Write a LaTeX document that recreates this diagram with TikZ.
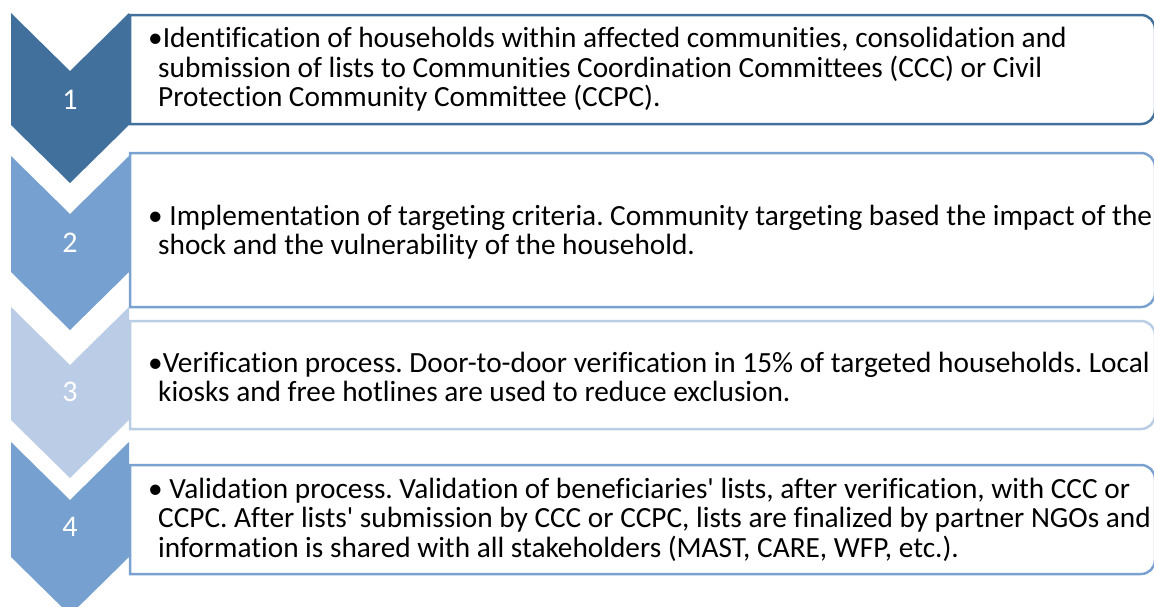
\documentclass[tikz,border=0pt]{standalone}
\usepackage{fontspec}
\setmainfont{Carlito}[Ligatures={NoCommon}]
\frenchspacing
\definecolor{chevA}{RGB}{66,112,157}
\definecolor{chevB}{RGB}{117,160,207}
\definecolor{chevC}{RGB}{187,205,230}
\definecolor{lineA}{RGB}{65,113,156}
\definecolor{lineB}{RGB}{122,162,208}
\definecolor{lineC}{RGB}{185,205,229}
\tikzset{
  boxslot/.style={draw=none, minimum width=1025pt, anchor=north west, inner sep=0pt, outer sep=0pt},
  boxline/.style={line width=2.5pt},
  steptext/.style={anchor=west, align=left, inner sep=0pt, font=\fontsize{29.3pt}{29.5pt}\selectfont, text=black},
  numtext/.style={text=white, inner sep=0pt, font=\fontsize{30pt}{30pt}\selectfont},
}
\newcommand{\rightround}[2]{%
  \draw[boxline, draw=#2] (#1.north west) -- ([xshift=-14pt]#1.north east)
    arc[start angle=90, end angle=0, radius=14pt] -- ([yshift=14pt]#1.south east)
    arc[start angle=0, end angle=-90, radius=14pt] -- (#1.south west) -- cycle;}
\begin{document}
\begin{tikzpicture}[x=1pt,y=1pt]
\useasboundingbox (0,0) rectangle (1154,-606);
\clip (0,0) rectangle (1154,-606);
% chevrons
\fill[chevA] (11,-13) -- (70,-71) -- (129,-13) -- (129,-125) -- (70,-183) -- (11,-125) -- cycle;
\fill[chevB] (11,-156) -- (70,-214) -- (129,-156) -- (129,-272) -- (70,-330) -- (11,-272) -- cycle;
\fill[chevC] (11,-307) -- (70,-365) -- (129,-307) -- (129,-420) -- (70,-478) -- (11,-420) -- cycle;
\fill[chevB] (11,-442) -- (70,-500) -- (129,-442) -- (129,-557) -- (70,-615) -- (11,-557) -- cycle;
% numbers
\node[numtext] (n1) at (70,-100) {1};
\node[numtext] (n2) at (70,-243) {2};
\node[numtext] (n3) at (70,-392) {3};
\node[numtext] (n4) at (70,-527) {4};
% boxes
\node[boxslot, minimum height=109pt] (b1) at (130,-15) {};
\node[boxslot, minimum height=154pt] (b2) at (130,-153) {};
\node[boxslot, minimum height=108pt] (b3) at (130,-321) {};
\node[boxslot, minimum height=109pt] (b4) at (130,-465) {};
\rightround{b1}{lineA}
\rightround{b2}{lineB}
\rightround{b3}{lineC}
\rightround{b4}{lineB}
% texts
\node[steptext] (t1) at (148,-69.5) {•Identification of households within affected communities, consolidation and\\
\hspace*{10pt}submission of lists to Communities Coordination Committees (CCC) or Civil\\
\hspace*{10pt}Protection Community Committee (CCPC).};
\node[steptext] (t2) at (148,-232) {• Implementation of targeting criteria. Community targeting based the impact of the\\
\hspace*{10pt}shock and the vulnerability of the household.};
\node[steptext] (t3) at (148,-377) {•Verification process. Door-to-door verification in 15\% of targeted households. Local\\
\hspace*{10pt}kiosks and free hotlines are used to reduce exclusion.};
\node[steptext] (t4) at (148,-519.5) {• Validation process. Validation of beneficiaries\textquotesingle\ lists, after verification, with CCC or\\
\hspace*{10pt}CCPC. After lists\textquotesingle\ submission by CCC or CCPC, lists are finalized by partner NGOs and\\
\hspace*{10pt}information is shared with all stakeholders (MAST, CARE, WFP, etc.).};
\end{tikzpicture}
\end{document}
